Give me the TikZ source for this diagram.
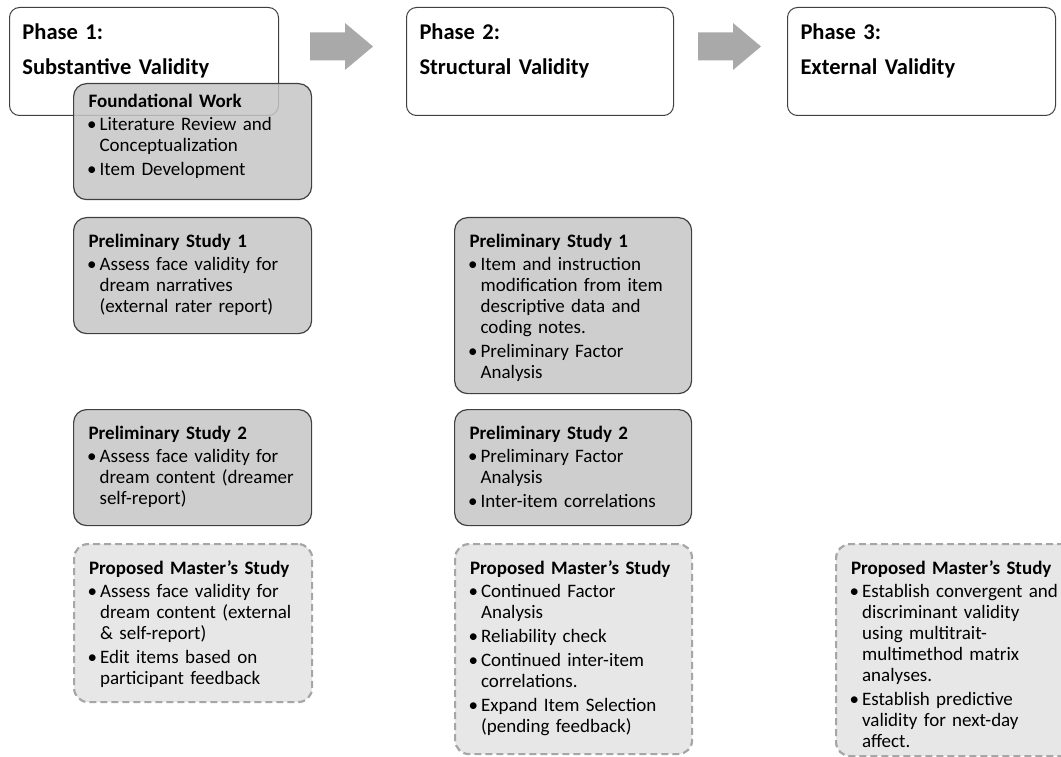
\documentclass[tikz,border=0pt]{standalone}
\usepackage{fontspec}
\setmainfont{Carlito}
\usepackage{enumitem}
\setlist[itemize]{label=\textbullet,leftmargin=11pt,labelsep=3pt,itemsep=3pt,parsep=0pt,topsep=2pt,partopsep=0pt}
\definecolor{edgegray}{HTML}{404040}
\definecolor{boxgray}{HTML}{C6C6C6}
\definecolor{dashgray}{HTML}{A6A6A6}
\definecolor{paleg}{HTML}{E7E7E7}
\definecolor{arrowgray}{HTML}{A9A9A9}

\begin{document}
\begin{tikzpicture}[x=1pt,y=-1pt,
  phasebox/.style={draw=edgegray,line width=1pt,rounded corners=10pt,anchor=north west,
    inner xsep=13pt,inner ysep=10pt,text height=22pt,text depth=66pt,
    font=\fontsize{22.5}{27}\selectfont\bfseries},
  studybox/.style={draw=edgegray,line width=1.2pt,fill=boxgray,fill opacity=0.85,text opacity=1,
    rounded corners=13pt,anchor=north west,inner xsep=15pt,inner ysep=10pt,text height=20pt,
    font=\fontsize{19}{21}\selectfont},
  planbox/.style={studybox,draw=dashgray,line width=2.2pt,dash pattern=on 7pt off 4pt,
    fill=paleg,fill opacity=1,rounded corners=14pt}]
  \useasboundingbox (0,0) rectangle (1061,757);
  \clip (0,0) rectangle (1061,757);
  % phases
  \node[phasebox,text width=243pt] (ph1) at (9,7) {Phase 1:\\[8pt]Substantive Validity};
  \node[phasebox,text width=241pt] (ph2) at (406,7) {Phase 2:\\[8pt]Structural Validity};
  \node[phasebox,text width=242pt] (ph3) at (787,7) {Phase 3:\\[8pt]External Validity};
  \foreach \ax in {310,698} {
    \fill[arrowgray] (\ax,32.5) -- ++(35,0) -- ++(0,-9.5) -- ++(28,23.5) -- ++(-28,23.5)
      -- ++(0,-9.5) -- ++(-35,0) -- cycle;
  }
  % phase 1 column
  \node[studybox,text width=208pt,text height=14pt,text depth=82pt] (found) at (73,83)
    {\textbf{Foundational Work}\begin{itemize}\item Literature Review and\newline Conceptualization
     \item Item Development\end{itemize}};
  \node[studybox,text width=208pt,text depth=76pt] (sub1) at (73,217)
    {\textbf{Preliminary Study 1}\begin{itemize}\item Assess face validity for\newline dream narratives\newline
     (external rater report)\end{itemize}};
  \node[studybox,text width=208pt,text depth=76pt] (sub2) at (73,409)
    {\textbf{Preliminary Study 2}\begin{itemize}\item Assess face validity for\newline dream content (dreamer\newline
     self-report)\end{itemize}};
  \node[planbox,text width=208pt,text depth=118pt] (subm) at (73,543)
    {\textbf{Proposed Master’s Study}\begin{itemize}\item Assess face validity for\newline dream content (external\newline
     \& self-report)\item Edit items based on\newline participant feedback\end{itemize}};
  % phase 2 column
  \node[studybox,text width=207pt,text depth=136pt] (str1) at (454,217)
    {\textbf{Preliminary Study 1}\begin{itemize}\item Item and instruction\newline modification from item\newline
     descriptive data and\newline coding notes.\item Preliminary Factor\newline Analysis\end{itemize}};
  \node[studybox,text width=207pt,text depth=76pt] (str2) at (454,409)
    {\textbf{Preliminary Study 2}\begin{itemize}\item Preliminary Factor\newline Analysis
     \item Inter-item correlations\end{itemize}};
  \node[planbox,text width=207pt,text depth=170pt] (strm) at (454,543)
    {\textbf{Proposed Master’s Study}\begin{itemize}\item Continued Factor\newline Analysis
     \item Reliability check\item Continued inter-item\newline correlations.
     \item Expand Item Selection\newline (pending feedback)\end{itemize}};
  % phase 3 column
  \node[planbox,text width=212pt,text depth=172pt] (extm) at (835,543)
    {\textbf{Proposed Master’s Study}\begin{itemize}\item Establish convergent and\newline discriminant validity\newline
     using multitrait-\newline multimethod matrix\newline analyses.\item Establish predictive\newline
     validity for next-day\newline affect.\end{itemize}};
\end{tikzpicture}
\end{document}
